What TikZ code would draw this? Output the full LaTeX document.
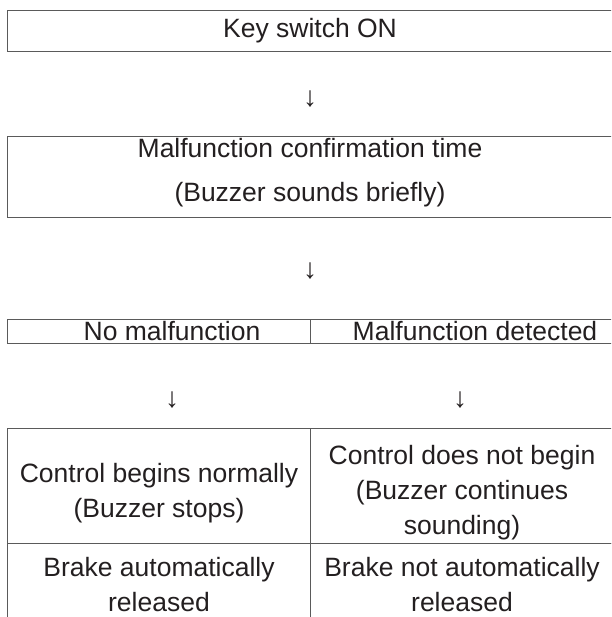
\documentclass[tikz,border=0pt]{standalone}
\usepackage{fontspec}
\setmainfont{Liberation Sans}
\usetikzlibrary{positioning}
\definecolor{ink}{HTML}{231F20}
\definecolor{rule}{HTML}{5A5A5A}

\begin{document}
\begin{tikzpicture}[
  x=1pt, y=-1pt,
  every node/.style={font=\fontsize{26.5}{35}\selectfont, text=ink},
  frame/.style={draw=rule, line width=1.4pt, inner sep=0pt, anchor=north west},
  txt/.style={align=center, inner sep=0pt},
  down/.style={txt, font=\fontsize{28}{35}\selectfont},
]
\useasboundingbox (0,0) rectangle (611,617);
\clip (0,0) rectangle (611,617);

% frames, open to the right and at the bottom
\node[frame, minimum width=607pt, minimum height=41pt] (keyon) at (7,10) {};
\node[frame, minimum width=607pt, minimum height=81pt] (check) at (7,136) {};
\node[frame, minimum width=303pt, minimum height=24pt] (okhead) at (7,319) {};
\node[frame, minimum width=304pt, minimum height=24pt] (nghead) at (310,319) {};
\node[frame, minimum width=303pt, minimum height=115pt] (okctrl) at (7,428) {};
\node[frame, minimum width=304pt, minimum height=115pt] (ngctrl) at (310,428) {};
\node[frame, minimum width=303pt, minimum height=90pt] (okbrake) at (7,543) {};
\node[frame, minimum width=304pt, minimum height=90pt] (ngbrake) at (310,543) {};

% texts
\node[txt] (keytxt) at (310,31) {Key switch ON};
\node[txt] (checktxt) at (310,173) {Malfunction confirmation time\\[9pt](Buzzer sounds briefly)};
\node[txt] (oktxt) at (172,331) {No malfunction};
\node[txt] (ngtxt) at (475,331) {Malfunction detected};
\node[txt] (okctrltxt) at (159,493) {Control begins normally\\(Buzzer stops)};
\node[txt] (ngctrltxt) at (462,493) {Control does not begin\\(Buzzer continues\\sounding)};
\node[txt] (okbraketxt) at (159,585) {Brake automatically\\released};
\node[txt] (ngbraketxt) at (462,585) {Brake not automatically\\released};

% arrows
\node[down] (arrowa) at (310,99) {↓};
\node[down] (arrowb) at (310,271) {↓};
\node[down] (arrowok) at (172,400) {↓};
\node[down] (arrowng) at (460,400) {↓};
\end{tikzpicture}
\end{document}
